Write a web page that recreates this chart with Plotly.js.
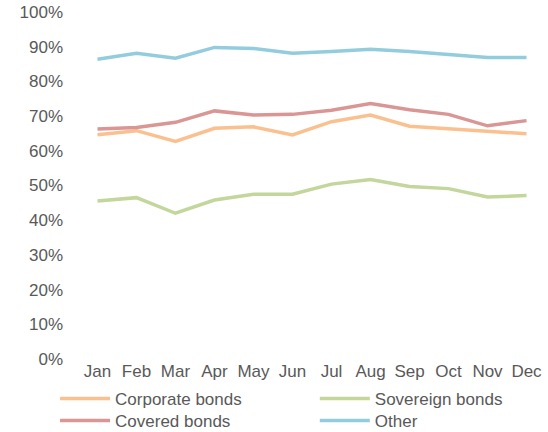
<!DOCTYPE html>
<html>
<head>
<meta charset="utf-8">
<script src="https://cdn.plot.ly/plotly-3.0.1.min.js"></script>
<style>html,body{margin:0;padding:0;background:#fff;}#chart{width:548px;height:432px;}</style>
</head>
<body>
<div id="chart"></div>
<script>
const months = ["Jan","Feb","Mar","Apr","May","Jun","Jul","Aug","Sep","Oct","Nov","Dec"];
const corporate = [0.646,0.658,0.627,0.665,0.669,0.646,0.684,0.703,0.671,0.663,0.657,0.649];
const sovereign = [0.455,0.465,0.420,0.458,0.475,0.475,0.504,0.517,0.497,0.491,0.467,0.471];
const covered   = [0.663,0.667,0.682,0.715,0.703,0.705,0.717,0.736,0.718,0.705,0.672,0.687];
const other     = [0.864,0.881,0.867,0.898,0.895,0.881,0.886,0.893,0.886,0.878,0.869,0.869];

const mk = (name, y, color, leg) => ({
  type: 'scatter', mode: 'lines', name: name, x: months, y: y,
  line: {color: color, width: 3.5}, hoverinfo: 'skip', legend: leg
});

const data = [
  mk('Corporate bonds', corporate, '#FAC090', 'legend'),
  mk('Sovereign bonds', sovereign, '#C3D69B', 'legend2'),
  mk('Covered bonds', covered, '#D99694', 'legend3'),
  mk('Other', other, '#93CDDD', 'legend4')
];

const font = {family: 'Liberation Sans, Arial, sans-serif', size: 17, color: '#595959'};

const legBase = {
  orientation: 'v', xanchor: 'left', yanchor: 'top', xref: 'paper', yref: 'container',
  font: font, tracegroupgap: 0, itemwidth: 50, bgcolor: 'rgba(0,0,0,0)'
};

const layout = {
  width: 548, height: 432,
  margin: {l: 78, r: 2, t: 12, b: 73},
  paper_bgcolor: '#ffffff', plot_bgcolor: '#ffffff',
  font: font,
  showlegend: true,
  xaxis: {
    type: 'category', range: [-0.5, 11.5], showgrid: false, zeroline: false,
    showline: false, ticks: '', tickfont: font, fixedrange: true
  },
  yaxis: {
    range: [0, 1], dtick: 0.1, tickformat: '.0%', showgrid: false, zeroline: false,
    showline: false, ticks: '', tickfont: font, ticklabelstandoff: 14, fixedrange: true
  },
  legend:  Object.assign({}, legBase, {x: -0.049, y: 0.118}),
  legend2: Object.assign({}, legBase, {x: 0.506,  y: 0.118}),
  legend3: Object.assign({}, legBase, {x: -0.049, y: 0.067}),
  legend4: Object.assign({}, legBase, {x: 0.506,  y: 0.067})
};

Plotly.newPlot('chart', data, layout, {staticPlot: true, displayModeBar: false});
</script>
</body>
</html>
